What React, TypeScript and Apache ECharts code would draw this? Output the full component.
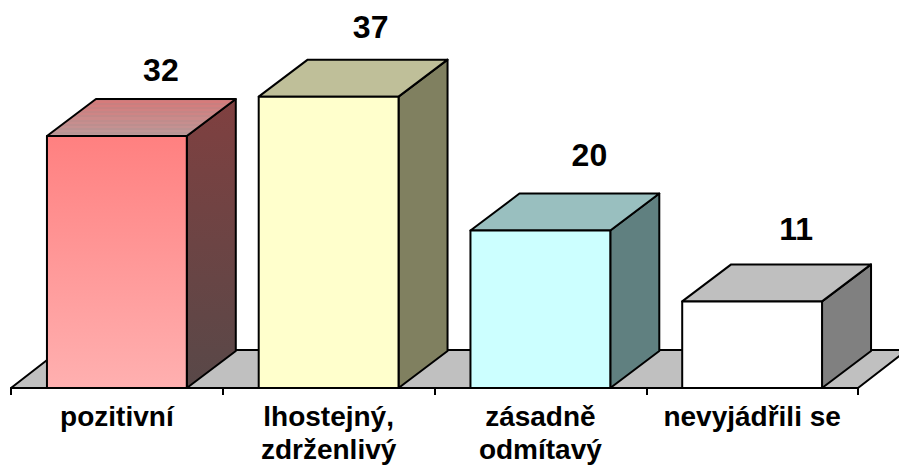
import React, { useEffect, useRef } from "react";
import * as echarts from "echarts";

const categories = ["pozitivní", "lhostejný,\nzdrženlivý", "zásadně\nodmítavý", "nevyjádřili se"];
const values = [32, 37, 20, 11];
const frontTop = ["#ff8080", "#ffffcc", "#ccffff", "#ffffff"];
const frontBottom = ["#ffb0b0", "#ffffcc", "#ccffff", "#ffffff"];
const sideTop = ["#804040", "#808060", "#608080", "#808080"];
const sideBottom = ["#584848", "#808060", "#608080", "#808080"];
const topStart = ["#c87070", "#bfbf99", "#99bfbf", "#bfbfbf"];
const topEnd = ["#b09090", "#bfbf99", "#99bfbf", "#bfbfbf"];
const stripes = [true, false, false, false];
const labelShift = [44, 42, 49, 44];
const labelRise = [66, 70, 76, 72];

const DX = 49;
const DY = 37;
const RATIO = 140 / 212;
const border = { stroke: "#000", lineWidth: 2, lineJoin: "round" as const };

function vGrad(a: string, b: string) {
  return new echarts.graphic.LinearGradient(0, 0, 0, 1, [
    { offset: 0, color: a },
    { offset: 1, color: b },
  ]);
}

function stripeGrad(a: string, b: string) {
  const stops: { offset: number; color: string }[] = [];
  const n = 18;
  for (let i = 0; i < n; i++) {
    const t = i / n;
    const mix = echarts.color.lerp(t, [a, b]) as string;
    const shade = echarts.color.lift(mix, i % 2 === 0 ? 0.08 : -0.08) as string;
    stops.push({ offset: t, color: shade });
    stops.push({ offset: (i + 1) / n, color: shade });
  }
  return new echarts.graphic.LinearGradient(0, 0, 0, 1, stops);
}

function renderFloor(params: any, api: any) {
  const cs = params.coordSys;
  const x0 = cs.x;
  const x1 = cs.x + cs.width;
  const y = api.coord([0, 0])[1];
  return {
    type: "polygon",
    shape: { points: [[x0, y], [x0 + DX, y - DY - 1], [x1 + DX, y - DY - 1], [x1, y]] },
    style: { fill: "#c0c0c0", ...border },
  };
}

function renderBar(params: any, api: any) {
  const i = params.dataIndex;
  const [cx, yv] = api.coord([api.value(0), api.value(1)]);
  const y0 = api.coord([api.value(0), 0])[1];
  const w = api.size([1, 0])[0] * RATIO;
  const l = cx - w / 2;
  const r = cx + w / 2;
  return {
    type: "group",
    children: [
      {
        type: "polygon",
        shape: { points: [[r, yv], [r + DX, yv - DY], [r + DX, y0 - DY], [r, y0]] },
        style: { fill: vGrad(sideTop[i], sideBottom[i]), ...border },
      },
      {
        type: "polygon",
        shape: { points: [[l, yv], [l + DX, yv - DY], [r + DX, yv - DY], [r, yv]] },
        style: { fill: stripes[i] ? stripeGrad(topStart[i], topEnd[i]) : topStart[i], ...border },
      },
      {
        type: "rect",
        shape: { x: l, y: yv, width: w, height: y0 - yv },
        style: { fill: vGrad(frontTop[i], frontBottom[i]), ...border },
      },
      {
        type: "text",
        x: cx + labelShift[i],
        y: yv - labelRise[i],
        style: {
          text: String(values[i]),
          fill: "#000",
          font: "bold 32px 'Liberation Sans', Arial, sans-serif",
          align: "center",
          verticalAlign: "middle",
        },
      },
    ],
  };
}

export default function App() {
  const ref = useRef<HTMLDivElement>(null);
  useEffect(() => {
    document.body.style.margin = "0";
    const chart = echarts.init(ref.current!, undefined, { renderer: "svg" });
    chart.setOption({
      animation: false,
      backgroundColor: "#fff",
      grid: { left: 11, top: 73, width: 847, height: 315, outerBoundsMode: "none" },
      xAxis: {
        type: "category",
        data: categories,
        axisLine: { lineStyle: { color: "#000", width: 2 } },
        axisTick: { show: true, length: 7, lineStyle: { color: "#000", width: 2 } },
        axisLabel: {
          interval: 0,
          margin: 12,
          color: "#000",
          fontFamily: "'Liberation Sans', Arial, sans-serif",
          fontWeight: "bold",
          fontSize: 28,
          lineHeight: 33,
          verticalAlign: "top",
        },
      },
      yAxis: { type: "value", min: 0, max: 40, show: false },
      series: [
        { type: "custom", renderItem: renderFloor, data: [[0, 0]], clip: false, silent: true, z: 1 },
        {
          type: "custom",
          renderItem: renderBar,
          data: values.map((v, i) => [i, v]),
          encode: { x: 0, y: 1 },
          clip: false,
          z: 2,
        },
      ],
    });
    return () => chart.dispose();
  }, []);
  return <div ref={ref} style={{ width: 899, height: 467 }} />;
}
